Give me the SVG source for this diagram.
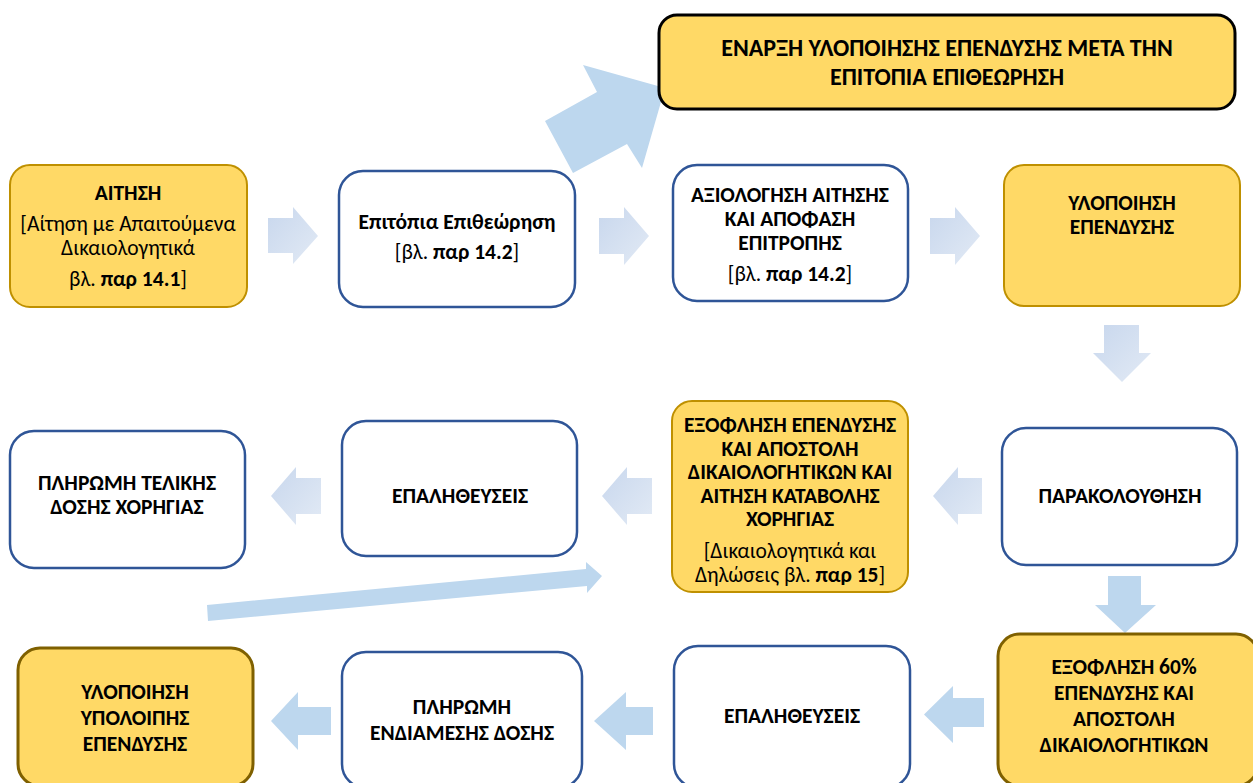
<svg xmlns="http://www.w3.org/2000/svg" width="1253" height="783" viewBox="0 0 1253 783">
<defs>
<style>
.yel{fill:#FFD966;stroke:#BF9000;stroke-width:2}
.yel2{fill:#FFD966;stroke:#7F6000;stroke-width:3}
.wht{fill:#FFFFFF;stroke:#2F5597;stroke-width:2.5}
.topbox{fill:#FFD966;stroke:#000000;stroke-width:3}
text{font-family:Carlito,Lato,"Open Sans",sans-serif;font-size:21.5px;text-anchor:middle;fill:#000}
.b{font-weight:bold}
.big{font-size:24px}
.solid{fill:#BDD7EE}
.grad{fill:url(#fade)}
</style>
<linearGradient id="fade" x1="0" y1="0" x2="1" y2="1">
<stop offset="0" stop-color="#C8D7ED"/>
<stop offset="1" stop-color="#E2EAF5"/>
</linearGradient>
</defs>
<rect width="1253" height="783" fill="#FFFFFF"/>

<g id="connectors">
<polygon class="solid" points="545,121 597,92 583,65 665,88 642,168 627,144 573,173"/>
<polygon class="grad" points="268,218 293,218 293,207 318,236 293,264 293,253 268,253"/>
<polygon class="grad" points="599,218 624,218 624,207 649,236 624,265 624,254 599,254"/>
<polygon class="grad" points="930,218 955,218 955,207 980,236 955,265 955,254 930,254"/>
<polygon class="grad" points="1104,325 1139,325 1139,353 1151,353 1122,382 1093,353 1104,353"/>
<polygon class="grad" points="321,478 296,478 296,467 271,496 296,525 296,514 321,514"/>
<polygon class="grad" points="652,478 627,478 627,467 602,496 627,525 627,514 652,514"/>
<polygon class="grad" points="982,478 958,478 958,467 933,496 958,525 958,514 982,514"/>
<polygon class="solid" points="1108,576 1141,576 1141,605 1156,605 1125,633 1095,605 1108,605"/>
<polygon class="solid" points="207,605 586,569 586,562 602,576 587,593 587,586 208,621"/>
<polygon class="solid" points="984,698 953,698 953,686 924,714.5 953,743 953,727 984,727"/>
<polygon class="solid" points="653,707 626,707 626,692 594,721 626,750 626,735 653,735"/>
<polygon class="solid" points="331,707 298,707 298,692 271,721 298,750 298,735 331,735"/>
</g>

<g id="node-top">
<rect class="topbox" x="659" y="15" width="576" height="94" rx="18"/>
<text class="b big" x="947" y="56">ΕΝΑΡΞΗ ΥΛΟΠΟΙΗΣΗΣ ΕΠΕΝΔΥΣΗΣ ΜΕΤΑ ΤΗΝ</text>
<text class="b big" x="947" y="85">ΕΠΙΤΟΠΙΑ ΕΠΙΘΕΩΡΗΣΗ</text>
</g>

<g id="node-aitisi">
<rect class="yel" x="10" y="165" width="237" height="142" rx="20"/>
<text class="b" x="128" y="200">ΑΙΤΗΣΗ</text>
<text x="128" y="231">[Αίτηση με Απαιτούμενα</text>
<text x="128" y="255">Δικαιολογητικά</text>
<text x="128" y="286">βλ. <tspan class="b">παρ 14.1</tspan>]</text>
</g>

<g id="node-epitopia">
<rect class="wht" x="339" y="171" width="236" height="136" rx="24"/>
<text class="b" x="457" y="229">Επιτόπια Επιθεώρηση</text>
<text x="457" y="259">[βλ. <tspan class="b">παρ 14.2</tspan>]</text>
</g>

<g id="node-axiologisi">
<rect class="wht" x="673" y="165" width="235" height="136" rx="24"/>
<text class="b" x="790" y="202">ΑΞΙΟΛΟΓΗΣΗ ΑΙΤΗΣΗΣ</text>
<text class="b" x="790" y="226">ΚΑΙ ΑΠΟΦΑΣΗ</text>
<text class="b" x="790" y="250">ΕΠΙΤΡΟΠΗΣ</text>
<text x="790" y="281">[βλ. <tspan class="b">παρ 14.2</tspan>]</text>
</g>

<g id="node-ylopoiisi">
<rect class="yel" x="1004" y="165" width="236" height="141" rx="20"/>
<text class="b" x="1122" y="210">ΥΛΟΠΟΙΗΣΗ</text>
<text class="b" x="1122" y="234">ΕΠΕΝΔΥΣΗΣ</text>
</g>

<g id="node-parakolouthisi">
<rect class="wht" x="1002" y="428" width="235" height="137" rx="24"/>
<text class="b" x="1120" y="503">ΠΑΡΑΚΟΛΟΥΘΗΣΗ</text>
</g>

<g id="node-exoflisi-ependysis">
<rect class="yel" x="672" y="401" width="236" height="191" rx="20"/>
<text class="b" x="790" y="432">ΕΞΟΦΛΗΣΗ ΕΠΕΝΔΥΣΗΣ</text>
<text class="b" x="790" y="455.5">ΚΑΙ ΑΠΟΣΤΟΛΗ</text>
<text class="b" x="790" y="479">ΔΙΚΑΙΟΛΟΓΗΤΙΚΩΝ ΚΑΙ</text>
<text class="b" x="790" y="502.5">ΑΙΤΗΣΗ ΚΑΤΑΒΟΛΗΣ</text>
<text class="b" x="790" y="526">ΧΟΡΗΓΙΑΣ</text>
<text x="790" y="558">[Δικαιολογητικά και</text>
<text x="790" y="581.5">Δηλώσεις βλ. <tspan class="b">παρ 15</tspan>]</text>
</g>

<g id="node-epalitheuseis-1">
<rect class="wht" x="342" y="421" width="235" height="135" rx="24"/>
<text class="b" x="460" y="503">ΕΠΑΛΗΘΕΥΣΕΙΣ</text>
</g>

<g id="node-pliromi-telikis">
<rect class="wht" x="10" y="431" width="235" height="137" rx="24"/>
<text class="b" x="127" y="490">ΠΛΗΡΩΜΗ ΤΕΛΙΚΗΣ</text>
<text class="b" x="127" y="514">ΔΟΣΗΣ ΧΟΡΗΓΙΑΣ</text>
</g>

<g id="node-exoflisi-60">
<rect class="yel2" x="998" y="634" width="260" height="152" rx="22"/>
<text class="b" x="1124" y="674">ΕΞΟΦΛΗΣΗ 60%</text>
<text class="b" x="1124" y="700">ΕΠΕΝΔΥΣΗΣ ΚΑΙ</text>
<text class="b" x="1124" y="726">ΑΠΟΣΤΟΛΗ</text>
<text class="b" x="1124" y="752">ΔΙΚΑΙΟΛΟΓΗΤΙΚΩΝ</text>
</g>

<g id="node-epalitheuseis-2">
<rect class="wht" x="674" y="646" width="236" height="142" rx="24"/>
<text class="b" x="792" y="723">ΕΠΑΛΗΘΕΥΣΕΙΣ</text>
</g>

<g id="node-pliromi-endiamesis">
<rect class="wht" x="342" y="652" width="240" height="136" rx="24"/>
<text class="b" x="462" y="714">ΠΛΗΡΩΜΗ</text>
<text class="b" x="462" y="740">ΕΝΔΙΑΜΕΣΗΣ ΔΟΣΗΣ</text>
</g>

<g id="node-ylopoiisi-ypoloipis">
<rect class="yel2" x="18" y="648" width="235" height="138" rx="22"/>
<text class="b" x="135" y="699">ΥΛΟΠΟΙΗΣΗ</text>
<text class="b" x="135" y="725">ΥΠΟΛΟΙΠΗΣ</text>
<text class="b" x="135" y="751">ΕΠΕΝΔΥΣΗΣ</text>
</g>
</svg>
